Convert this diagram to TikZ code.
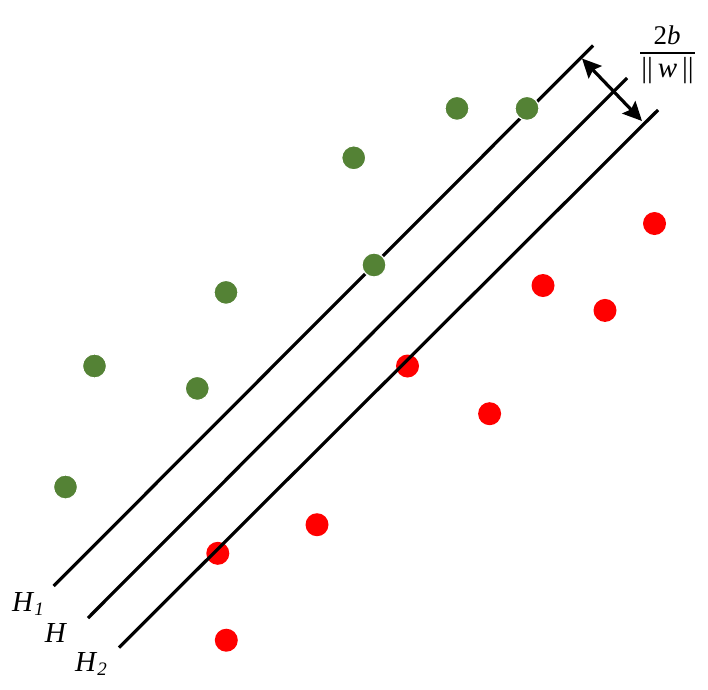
\documentclass[tikz,border=0pt]{standalone}
\usepackage{fontspec}
\setmainfont{Liberation Serif}
\usetikzlibrary{arrows.meta}
\definecolor{dgreen}{HTML}{548235}
\definecolor{dred}{HTML}{FF0000}
\tikzset{
  gdot/.style={circle,fill=dgreen,draw=white,line width=1.2pt,minimum size=24pt,inner sep=0pt},
  rdot/.style={circle,fill=dred,minimum size=23pt,inner sep=0pt},
  hline/.style={line width=3.2pt},
  lab/.style={font=\fontsize{29}{31}\selectfont,inner sep=0pt},
  flab/.style={font=\fontsize{27}{29}\selectfont,inner sep=0pt},
  marg/.style={line width=3.2pt,{Stealth[length=19pt,width=18pt,inset=3pt]}-{Stealth[length=19pt,width=18pt,inset=3pt]}}
}
\begin{document}
\begin{tikzpicture}[x=1pt,y=-1pt]
\useasboundingbox (0,0) rectangle (708,689);
% red points
\node[rdot] (r1) at (654.5,223.5) {};
\node[rdot] (r2) at (543,285.5) {};
\node[rdot] (r3) at (605,310.4) {};
\node[rdot] (r4) at (407.5,366) {};
\node[rdot] (r5) at (489.6,413.7) {};
\node[rdot] (r6) at (317,524.7) {};
\node[rdot] (r7) at (217.8,553.3) {};
\node[rdot] (r8) at (226.3,640.2) {};
% hyperplanes
\coordinate (h1a) at (53.7,586);
\coordinate (h1b) at (593,45.5);
\coordinate (ha) at (88,618);
\coordinate (hb) at (627,78);
\coordinate (h2a) at (119,647.5);
\coordinate (h2b) at (658,110);
\draw[hline] (h1a) -- (h1b);
\draw[hline] (ha) -- (hb);
\draw[hline] (h2a) -- (h2b);
% green points
\node[gdot] (g1) at (457,108.4) {};
\node[gdot] (g2) at (527,108.4) {};
\node[gdot] (g3) at (353.7,157.8) {};
\node[gdot] (g4) at (374,265) {};
\node[gdot] (g5) at (226,292.4) {};
\node[gdot] (g6) at (94.5,366) {};
\node[gdot] (g7) at (197.3,388.4) {};
\node[gdot] (g8) at (65.5,487) {};
% margin arrow
\coordinate (m1) at (582,58.5);
\coordinate (m2) at (642,121);
\draw[marg] (m1) -- (m2);
% labels
\node[lab] (lH1) at (28,604) {\textit{H}\raisebox{-0.25ex}{\fontsize{19}{21}\selectfont\textit{1}}};
\node[lab] (lH) at (56,633) {\textit{H}};
\node[lab] (lH2) at (91,664) {\textit{H}\raisebox{-0.25ex}{\fontsize{19}{21}\selectfont\textit{2}}};
\node[flab] (num) at (667,35) {2\textit{b}};
\node[flab,font=\fontsize{29}{31}\selectfont] (den) at (667.5,71) {||\,\textit{w}\,||};
\coordinate (fl) at (640,53);
\coordinate (fr) at (695,53);
\draw[line width=1.6pt] (fl) -- (fr);
\end{tikzpicture}
\end{document}
